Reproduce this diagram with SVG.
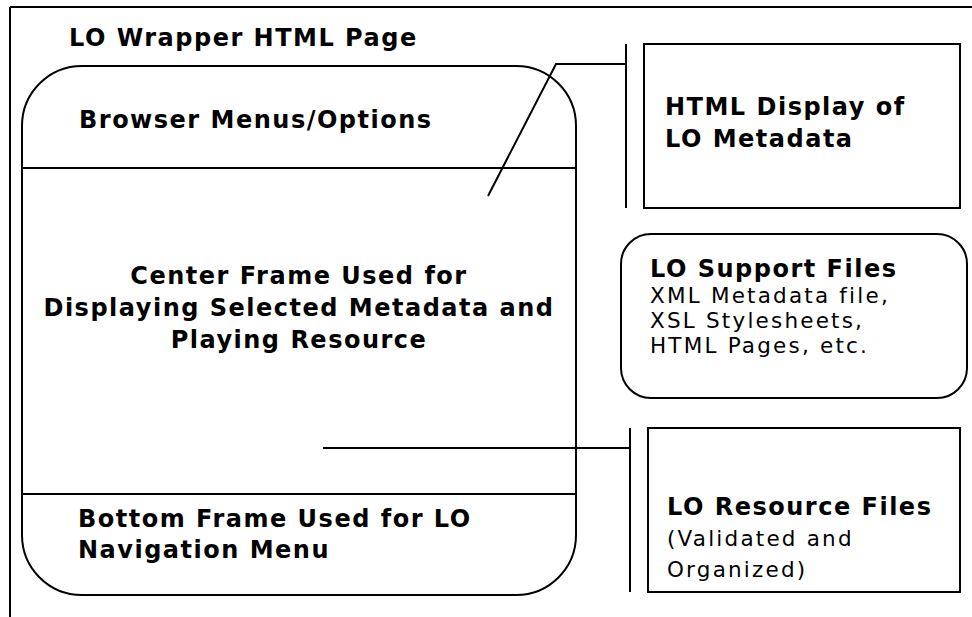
<svg xmlns="http://www.w3.org/2000/svg" width="972" height="617" viewBox="0 0 972 617">
  <style>
    .ln { fill: none; stroke: #000; stroke-width: 2; }
    .box { fill: #fff; stroke: #000; stroke-width: 2; }
    text { font-family: "DejaVu Sans", Verdana, sans-serif; font-size: 21.5px; fill: #000; letter-spacing: 2.2px; }
    .b { font-size: 24px; font-weight: bold; letter-spacing: 1.5px; }
  </style>
  <rect width="972" height="617" fill="#fff"/>

  <!-- page frame -->
  <g id="page-frame">
    <path class="ln" d="M10,7 H972 M10,7 V617"/>
    <text class="b" x="69" y="46">LO Wrapper HTML Page</text>
  </g>

  <!-- browser window with three frames -->
  <g id="browser-window">
    <rect class="box" x="22" y="66" width="554" height="529" rx="60" ry="60"/>
    <path class="ln" d="M22,168 H576 M22,494 H576"/>
  </g>
  <g id="browser-menus">
    <text class="b" x="79" y="128">Browser Menus/Options</text>
  </g>
  <g id="center-frame">
    <text class="b" x="299" y="284" text-anchor="middle">Center Frame Used for</text>
    <text class="b" x="299" y="316" text-anchor="middle">Displaying Selected Metadata and</text>
    <text class="b" x="299" y="348" text-anchor="middle">Playing Resource</text>
  </g>
  <g id="bottom-frame">
    <text class="b" x="78" y="527">Bottom Frame Used for LO</text>
    <text class="b" x="78" y="558">Navigation Menu</text>
  </g>

  <!-- connectors -->
  <g id="connectors">
    <polyline class="ln" points="488,196 556,64 626,64"/>
    <path class="ln" d="M626,44 V208"/>
    <path class="ln" d="M323,448 H630"/>
    <path class="ln" d="M630,428 V592"/>
  </g>

  <g id="metadata-display">
    <rect class="box" x="644" y="44" width="316" height="164"/>
    <text class="b" x="665" y="115">HTML Display of</text>
    <text class="b" x="665" y="147">LO Metadata</text>
  </g>

  <g id="support-files">
    <rect class="box" x="621" y="234" width="346" height="164" rx="30" ry="30"/>
    <text class="b" x="650" y="277">LO Support Files</text>
    <text x="650" y="303">XML Metadata file,</text>
    <text x="650" y="328">XSL Stylesheets,</text>
    <text x="650" y="353">HTML Pages, etc.</text>
  </g>

  <g id="resource-files">
    <rect class="box" x="648" y="428" width="312" height="164"/>
    <text class="b" x="667" y="515">LO Resource Files</text>
    <text x="667" y="546">(Validated and</text>
    <text x="667" y="577">Organized)</text>
  </g>
</svg>
